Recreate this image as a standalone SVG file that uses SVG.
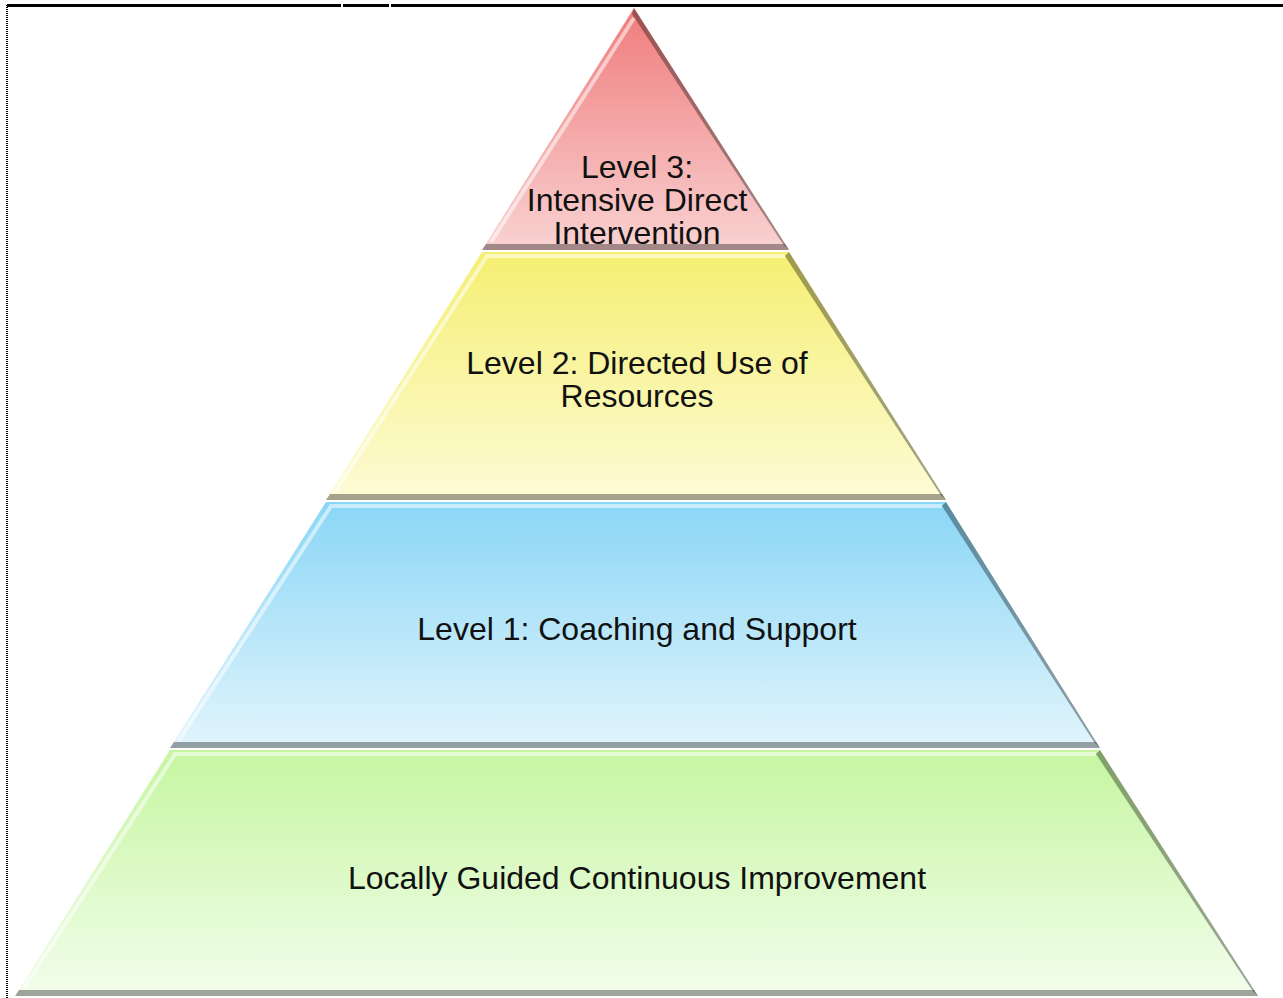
<svg xmlns="http://www.w3.org/2000/svg" width="1283" height="998" viewBox="0 0 1283 998">
  <style>
    .lbl { font-family: "Liberation Sans", Arial, sans-serif; font-size: 32px; fill: #111; text-anchor: middle; }
    .shade { fill: #000; opacity: 0.35; }
    .hi { fill: none; stroke: #fff; stroke-opacity: 0.55; stroke-width: 4; }
  </style>
  <defs>
    <linearGradient id="gRed" x1="0" y1="0" x2="0" y2="1">
      <stop offset="0" stop-color="#f07c7c"/>
      <stop offset="1" stop-color="#f9d2d2"/>
    </linearGradient>
    <linearGradient id="gYel" x1="0" y1="0" x2="0" y2="1">
      <stop offset="0" stop-color="#f5ef72"/>
      <stop offset="1" stop-color="#fdfbd6"/>
    </linearGradient>
    <linearGradient id="gBlu" x1="0" y1="0" x2="0" y2="1">
      <stop offset="0" stop-color="#8ad6f6"/>
      <stop offset="1" stop-color="#e2f5fc"/>
    </linearGradient>
    <linearGradient id="gGrn" x1="0" y1="0" x2="0" y2="1">
      <stop offset="0" stop-color="#c6f6a0"/>
      <stop offset="1" stop-color="#f2fdec"/>
    </linearGradient>
  </defs>

  <!-- frame -->
  <g id="frame">
    <line x1="7" y1="5.5" x2="341" y2="5.5" stroke="#000" stroke-width="3"/>
    <line x1="343" y1="5.5" x2="389" y2="5.5" stroke="#000" stroke-width="3"/>
    <line x1="391" y1="5.5" x2="1283" y2="5.5" stroke="#000" stroke-width="3"/>
    <line x1="7" y1="5" x2="7" y2="998" stroke="#000" stroke-width="2" stroke-dasharray="1 1"/>
  </g>

  <!-- tier 0 -->
  <g id="tier-base">
    <polygon points="170,750 1100,750 1258,996 15,996" fill="url(#gGrn)"/>
    <polygon class="shade" points="15,996 1258,996 1254,990 19,990"/>
    <polygon class="shade" points="1100,750 1258,996 1252,990 1096,754" opacity="0.25"/>
    <polyline class="hi" points="24,988 175,754 1096,754"/>
    <text class="lbl" x="637" y="889">Locally Guided Continuous Improvement</text>
  </g>

  <!-- tier 1 -->
  <g id="tier-1">
    <polygon points="326,502 946,502 1100,748 170,748" fill="url(#gBlu)"/>
    <polygon class="shade" points="170,748 1100,748 1096,742 174,742"/>
    <polygon class="shade" points="946,502 1100,748 1094,742 942,506" opacity="0.25"/>
    <polyline class="hi" points="179,740 331,506 942,506"/>
    <text class="lbl" x="637" y="640">Level 1: Coaching and Support</text>
  </g>

  <!-- tier 2 -->
  <g id="tier-2">
    <polygon points="482,252 789,252 946,500 326,500" fill="url(#gYel)"/>
    <polygon class="shade" points="326,500 946,500 942,494 330,494"/>
    <polygon class="shade" points="789,252 946,500 940,494 785,256" opacity="0.25"/>
    <polyline class="hi" points="335,492 487,256 785,256"/>
    <text class="lbl" x="637" y="374">Level 2: Directed Use of</text>
    <text class="lbl" x="637" y="407">Resources</text>
  </g>

  <!-- tier 3 -->
  <g id="tier-3">
    <polygon points="634,8 789,250 482,250" fill="url(#gRed)"/>
    <polygon class="shade" points="482,250 789,250 785,244 486,244"/>
    <polygon class="shade" points="634,8 789,250 783,244 632,14" opacity="0.25"/>
    <polyline class="hi" points="491,242 634,18"/>
    <text class="lbl" x="637" y="178">Level 3:</text>
    <text class="lbl" x="637" y="211">Intensive Direct</text>
    <text class="lbl" x="637" y="244">Intervention</text>
  </g>
</svg>
